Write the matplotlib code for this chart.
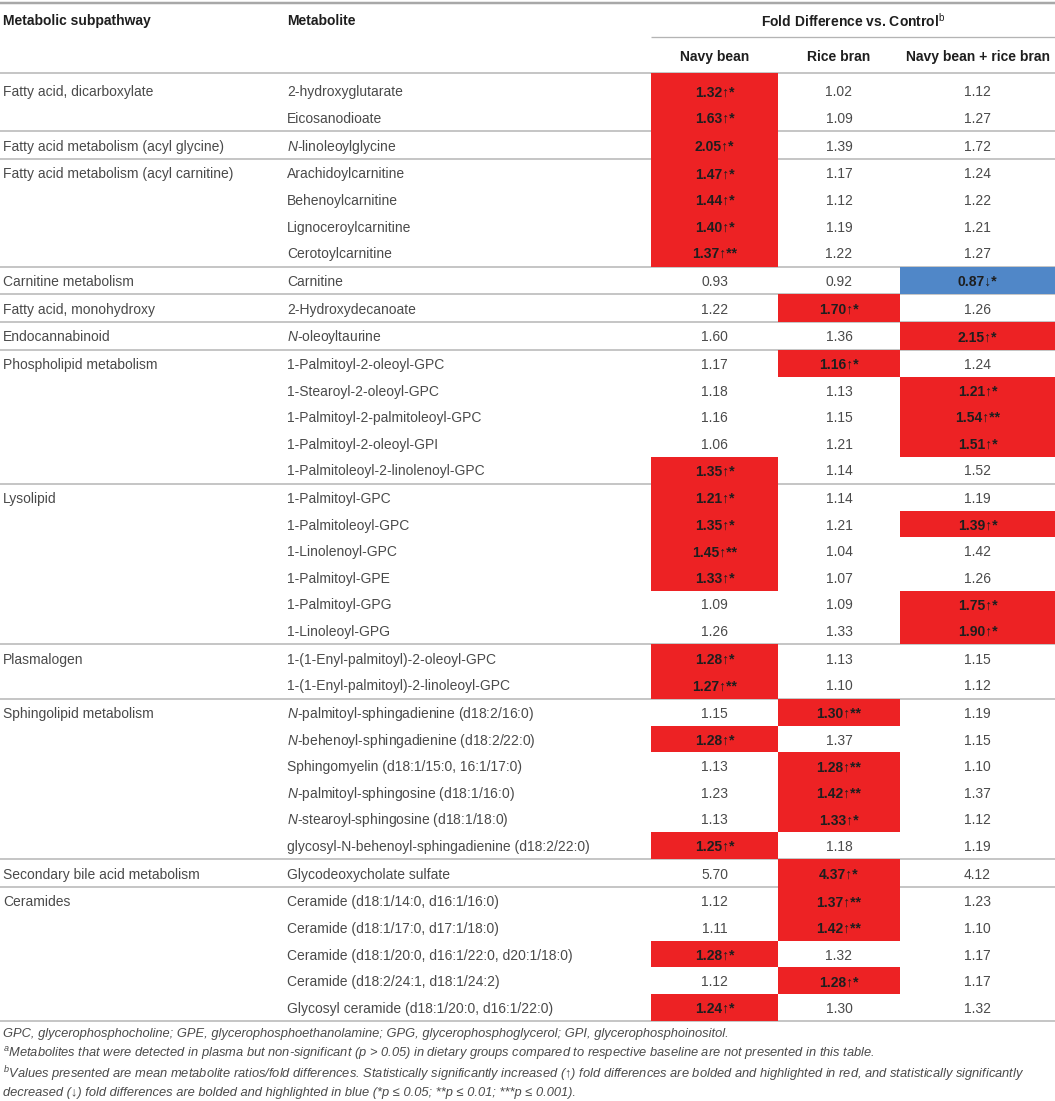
import matplotlib
matplotlib.use("Agg")
import matplotlib.pyplot as plt
from matplotlib.patches import Rectangle

plt.rcParams['font.family'] = ['Liberation Sans', 'DejaVu Sans']
plt.rcParams['mathtext.fontset'] = 'custom'
plt.rcParams['mathtext.rm'] = 'Liberation Sans'
plt.rcParams['mathtext.it'] = 'Liberation Sans:italic'
plt.rcParams['mathtext.bf'] = 'Liberation Sans:bold'

# ---- table data ----
subpathways = ["Fatty acid, dicarboxylate", "Fatty acid metabolism (acyl glycine)",
               "Fatty acid metabolism (acyl carnitine)", "Carnitine metabolism",
               "Fatty acid, monohydroxy", "Endocannabinoid", "Phospholipid metabolism",
               "Lysolipid", "Plasmalogen", "Sphingolipid metabolism",
               "Secondary bile acid metabolism", "Ceramides"]
group_sizes = [2, 1, 4, 1, 1, 1, 5, 6, 2, 6, 1, 5]

metabolites = [
    "2-hydroxyglutarate", "Eicosanodioate",
    "N-linoleoylglycine",
    "Arachidoylcarnitine", "Behenoylcarnitine", "Lignoceroylcarnitine", "Cerotoylcarnitine",
    "Carnitine",
    "2-Hydroxydecanoate",
    "N-oleoyltaurine",
    "1-Palmitoyl-2-oleoyl-GPC", "1-Stearoyl-2-oleoyl-GPC", "1-Palmitoyl-2-palmitoleoyl-GPC",
    "1-Palmitoyl-2-oleoyl-GPI", "1-Palmitoleoyl-2-linolenoyl-GPC",
    "1-Palmitoyl-GPC", "1-Palmitoleoyl-GPC", "1-Linolenoyl-GPC", "1-Palmitoyl-GPE",
    "1-Palmitoyl-GPG", "1-Linoleoyl-GPG",
    "1-(1-Enyl-palmitoyl)-2-oleoyl-GPC", "1-(1-Enyl-palmitoyl)-2-linoleoyl-GPC",
    "N-palmitoyl-sphingadienine (d18:2/16:0)", "N-behenoyl-sphingadienine (d18:2/22:0)",
    "Sphingomyelin (d18:1/15:0, 16:1/17:0)", "N-palmitoyl-sphingosine (d18:1/16:0)",
    "N-stearoyl-sphingosine (d18:1/18:0)", "glycosyl-N-behenoyl-sphingadienine (d18:2/22:0)",
    "Glycodeoxycholate sulfate",
    "Ceramide (d18:1/14:0, d16:1/16:0)", "Ceramide (d18:1/17:0, d17:1/18:0)",
    "Ceramide (d18:1/20:0, d16:1/22:0, d20:1/18:0)", "Ceramide (d18:2/24:1, d18:1/24:2)",
    "Glycosyl ceramide (d18:1/20:0, d16:1/22:0)",
]

navy_bean = [1.32, 1.63, 2.05, 1.47, 1.44, 1.40, 1.37, 0.93, 1.22, 1.60,
             1.17, 1.18, 1.16, 1.06, 1.35, 1.21, 1.35, 1.45, 1.33, 1.09, 1.26,
             1.28, 1.27, 1.15, 1.28, 1.13, 1.23, 1.13, 1.25, 5.70,
             1.12, 1.11, 1.28, 1.12, 1.24]
navy_bean_sig = ["↑*", "↑*", "↑*", "↑*", "↑*", "↑*", "↑**", "", "", "",
                 "", "", "", "", "↑*", "↑*", "↑*", "↑**", "↑*", "", "",
                 "↑*", "↑**", "", "↑*", "", "", "", "↑*", "",
                 "", "", "↑*", "", "↑*"]

rice_bran = [1.02, 1.09, 1.39, 1.17, 1.12, 1.19, 1.22, 0.92, 1.70, 1.36,
             1.16, 1.13, 1.15, 1.21, 1.14, 1.14, 1.21, 1.04, 1.07, 1.09, 1.33,
             1.13, 1.10, 1.30, 1.37, 1.28, 1.42, 1.33, 1.18, 4.37,
             1.37, 1.42, 1.32, 1.28, 1.30]
rice_bran_sig = ["", "", "", "", "", "", "", "", "↑*", "",
                 "↑*", "", "", "", "", "", "", "", "", "", "",
                 "", "", "↑**", "", "↑**", "↑**", "↑*", "", "↑*",
                 "↑**", "↑**", "", "↑*", ""]

combined = [1.12, 1.27, 1.72, 1.24, 1.22, 1.21, 1.27, 0.87, 1.26, 2.15,
            1.24, 1.21, 1.54, 1.51, 1.52, 1.19, 1.39, 1.42, 1.26, 1.75, 1.90,
            1.15, 1.12, 1.19, 1.15, 1.10, 1.37, 1.12, 1.19, 4.12,
            1.23, 1.10, 1.17, 1.17, 1.32]
combined_sig = ["", "", "", "", "", "", "", "↓*", "", "↑*",
                "", "↑*", "↑**", "↑*", "", "", "↑*", "", "", "↑*", "↑*",
                "", "", "", "", "", "", "", "", "",
                "", "", "", "", ""]

col_headers = ["Metabolic subpathway", "Metabolite"]
group_headers = ["Navy bean", "Rice bran", "Navy bean + rice bran"]

footnotes = [
    ("", "GPC, glycerophosphocholine; GPE, glycerophosphoethanolamine; GPG, glycerophosphoglycerol; GPI, glycerophosphoinositol."),
    ("a", "Metabolites that were detected in plasma but non-significant (p > 0.05) in dietary groups compared to respective baseline are not presented in this table."),
    ("b", "Values presented are mean metabolite ratios/fold differences. Statistically significantly increased (↑) fold differences are bolded and highlighted in red, and statistically significantly"),
    ("", "decreased (↓) fold differences are bolded and highlighted in blue (*p ≤ 0.05; **p ≤ 0.01; ***p ≤ 0.001)."),
]

# ---- layout (pixels) ----
W, H = 1055, 1101
RED, BLUE = "#ED2224", "#5087C8"
LINE = "#b4b4b4"
TXT, DARK = "#4a4a4a", "#1e1e1e"
FS = 10

fig = plt.figure(figsize=(W / 100, H / 100), dpi=100)
ax = fig.add_axes([0, 0, 1, 1])
ax.set_xlim(0, W)
ax.set_ylim(H, 0)
ax.axis("off")

x_sub, x_met = 3, 287
val_edges = [651, 778, 900, W]
px = 0.72  # one pixel in points

# header
ax.hlines(2.5, 0, W, color="#a8a8a8", lw=2.5 * px)
ax.text(x_sub, 21, col_headers[0], fontsize=FS, fontweight="bold", color=DARK, va="center")
ax.text(x_met, 21, col_headers[1], fontsize=FS, fontweight="bold", color=DARK, va="center")
ax.text((val_edges[0] + val_edges[-1]) / 2, 21, r"Fold Difference vs. Control$^{\mathrm{b}}$",
        fontsize=FS, fontweight="bold", color=DARK, va="center", ha="center")
ax.hlines(37, val_edges[0], W, color=LINE, lw=1.3 * px)
for j, name in enumerate(group_headers):
    ax.text((val_edges[j] + val_edges[j + 1]) / 2, 57, name, fontsize=FS,
            fontweight="bold", color=DARK, va="center", ha="center")
ax.hlines(73, 0, W, color=LINE, lw=1.5 * px)

# rows
row_h, pad, lead = 26.6, 1.1, 4.0
y = 73.0
row_mid, row_top, row_bot, first_in_group = [], [], [], []
for gi, n in enumerate(group_sizes):
    g0 = y
    inner = y + (lead if gi == 0 else 0) + pad / 2
    g1 = inner + n * row_h + pad / 2
    for k in range(n):
        row_mid.append(inner + row_h * (k + 0.5))
        row_top.append(g0 if k == 0 else inner + row_h * k)
        row_bot.append(g1 if k == n - 1 else inner + row_h * (k + 1))
        first_in_group.append(gi if k == 0 else None)
    y = g1
    ax.hlines(y, 0, W, color=LINE, lw=1.5 * px, zorder=1)

columns = [(navy_bean, navy_bean_sig), (rice_bran, rice_bran_sig), (combined, combined_sig)]
for i, name in enumerate(metabolites):
    ty = row_mid[i] + 1.5
    if first_in_group[i] is not None:
        ax.text(x_sub, ty, subpathways[first_in_group[i]], fontsize=FS, color=TXT, va="center")
    label = r"$\mathit{N}$" + name[1:] if name.startswith("N-") else name
    ax.text(x_met, ty, label, fontsize=FS, color=TXT, va="center")
    for j, (vals, sigs) in enumerate(columns):
        cx = (val_edges[j] + val_edges[j + 1]) / 2
        s = sigs[i]
        if s:
            ax.add_patch(Rectangle((val_edges[j], row_top[i]), val_edges[j + 1] - val_edges[j],
                                   row_bot[i] - row_top[i], facecolor=RED if "↑" in s else BLUE,
                                   edgecolor="none", zorder=2))
            ax.text(cx, ty, f"{vals[i]:.2f}{s}", fontsize=FS, fontweight="bold", color=DARK,
                    va="center", ha="center", zorder=3)
        else:
            ax.text(cx, ty, f"{vals[i]:.2f}", fontsize=FS, color=TXT, va="center",
                    ha="center", zorder=3)

# footnotes
fy = [1034, 1054, 1074, 1093]
for (sup, txt), yy in zip(footnotes, fy):
    ax.text(x_sub, yy, (r"$^{%s}$" % sup if sup else "") + txt, fontsize=9.3, style="italic",
            color=TXT, va="center")

fig.savefig("out.png", dpi=100)
